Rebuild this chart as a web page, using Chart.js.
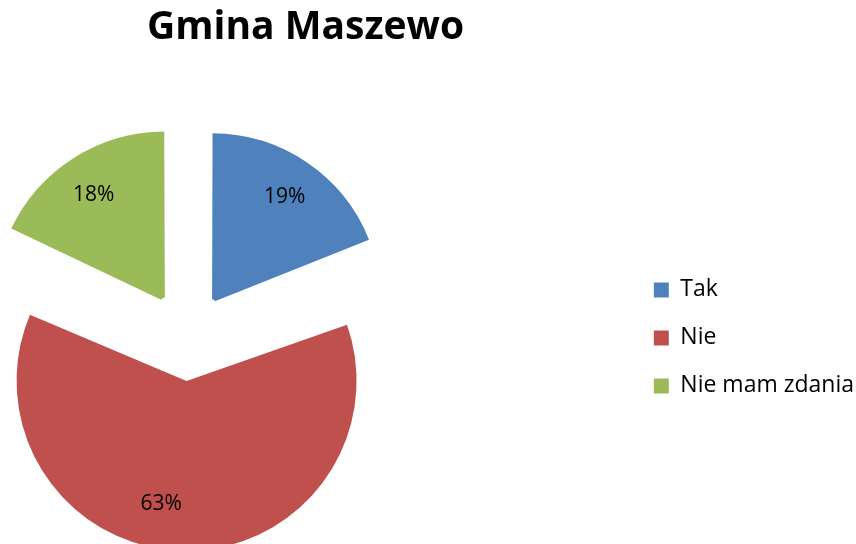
<!DOCTYPE html>
<html><head><meta charset="utf-8">
<script src="https://cdn.jsdelivr.net/npm/chart.js@4.4.1/dist/chart.umd.min.js"></script>
<style>
html,body{margin:0;padding:0;width:856px;height:544px;overflow:hidden;background:#fff;}
#wrap{position:absolute;left:-253px;top:0;width:1117px;height:615px;}
canvas{display:block;}
</style></head><body>
<div id="wrap"><canvas id="c" width="1117" height="615"></canvas></div>
<script>
// ---- data ----
const titleText = 'Gmina Maszewo';
const categories = ['Tak', 'Nie', 'Nie mam zdania'];
const values = [19, 63, 18];
const colors = ['#4F81BD', '#C0504D', '#9BBB59'];

// ---- styling ----
const FONT = "'Open Sans', 'Liberation Sans', sans-serif";
const EXPLODE = 172;            // arc offset option (translation = offset/4 px)
const CLEAR = 'rgba(0,0,0,0)';
const bigSlice = values.indexOf(Math.max(...values));
// ring weights chosen so the inner ring reaches the centre exactly
const INNER_W = Math.pow(2, -20);
const INNER_R = 127;

const total = values.reduce((a, b) => a + b, 0);

const labelPlugin = {
  id: 'sliceLabels',
  afterDatasetsDraw(chart, args, opts) {
    const ctx = chart.ctx;
    ctx.save();
    ctx.font = opts.size + 'px ' + FONT;
    ctx.fillStyle = '#000';
    ctx.textAlign = 'center';
    ctx.textBaseline = 'middle';
    values.forEach((v, i) => {
      const ds = i === bigSlice ? 1 : 0;
      const arc = chart.getDatasetMeta(ds).data[i];
      const p = arc.getProps(['x', 'y', 'startAngle', 'endAngle', 'outerRadius', 'circumference'], true);
      const o = (arc.options.offset || 0) / 4;
      const mid = (p.startAngle + p.endAngle) / 2;
      const cx = p.x + Math.cos(mid) * o;
      const cy = p.y + Math.sin(mid) * o;
      const fix = 1 - Math.sin(Math.min(Math.PI, p.circumference));
      const r = p.outerRadius + o * fix;
      const a = mid + opts.angleShift[i] * Math.PI / 180;
      const lr = r * opts.radiusFraction[i];
      const txt = Math.round(v / total * 100) + '%';
      ctx.fillText(txt, cx + Math.cos(a) * lr, cy + Math.sin(a) * lr + opts.nudgeY);
    });
    ctx.restore();
  }
};

new Chart(document.getElementById('c'), {
  type: 'pie',
  data: {
    labels: categories,
    datasets: [
      {
        data: values,
        backgroundColor: colors.map((c, i) => i === bigSlice ? CLEAR : c),
        borderWidth: 0,
        offset: values.map((v, i) => i === bigSlice ? 0 : EXPLODE),
        radius: 166,
        weight: 1
      },
      {
        data: values,
        backgroundColor: colors.map((c, i) => i === bigSlice ? c : CLEAR),
        borderWidth: 0,
        offset: values.map((v, i) => i === bigSlice ? EXPLODE : 0),
        radius: INNER_R * (1 / INNER_W + 1),
        weight: INNER_W
      }
    ]
  },
  options: {
    responsive: false,
    animation: false,
    events: [],
    devicePixelRatio: 1,
    layout: { padding: 0 },
    plugins: {
      title: {
        display: true,
        text: titleText,
        color: '#000',
        font: { family: FONT, size: 39, weight: 'bold', lineHeight: 1.2 },
        padding: { top: 4, bottom: 10 }
      },
      legend: {
        position: 'right',
        align: 'center',
        fullSize: false,
        labels: {
          boxWidth: 15,
          boxHeight: 15,
          padding: 25,
          color: '#000',
          font: { family: FONT, size: 23 },
          generateLabels: () => categories.map((t, i) => ({
            text: t, fillStyle: colors[i], strokeStyle: colors[i], lineWidth: 0,
            hidden: false, index: i, datasetIndex: 0
          }))
        }
      },
      tooltip: { enabled: false },
      sliceLabels: {
        size: 21,
        nudgeY: 1.5,
        angleShift: [0, 10, -1],
        radiusFraction: [0.765, 0.73, 0.76]
      }
    }
  },
  plugins: [labelPlugin]
});
</script>
</body></html>
